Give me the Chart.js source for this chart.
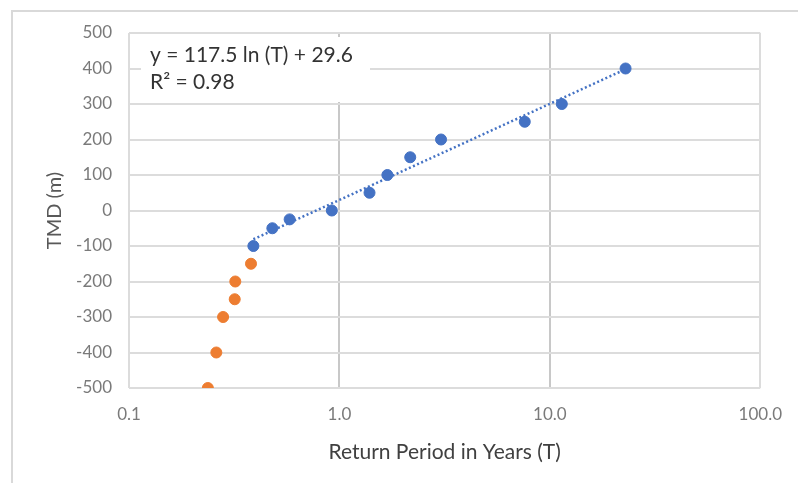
<!DOCTYPE html>
<html>
<head>
<meta charset="utf-8">
<script src="https://cdn.jsdelivr.net/npm/chart.js@4/dist/chart.umd.min.js"></script>
<style>
  html, body { margin: 0; padding: 0; background: #fff; }
  #wrap { width: 798px; height: 483px; position: relative; }
</style>
</head>
<body>
<div id="wrap"><canvas id="chart" width="798" height="483"></canvas></div>
<script>
// data
const blueT = [0.39, 0.48, 0.58, 0.92, 1.39, 1.69, 2.17, 3.04, 7.6, 11.4, 22.9];
const blueY = [-100, -50, -25, 0, 50, 100, 150, 200, 250, 300, 400];
const orangeT = [0.38, 0.32, 0.318, 0.28, 0.26, 0.237];
const orangeY = [-150, -200, -250, -300, -400, -500];
const trendT = [0.39, 22.9];
const trendY = [-81, 398];
const xTicks = [0.1, 1, 10, 100];
const eqLines = ['y = 117.5 ln (T) + 29.6', 'R\u00b2 = 0.98'];

const toPts = (xs, ys) => xs.map((x, i) => ({ x: x, y: ys[i] }));

Chart.defaults.font.family = "Lato, 'Open Sans', sans-serif";

// frame + equation box
const extras = {
  id: 'extras',
  beforeDraw(chart) {
    const c = chart.ctx;
    c.save();
    c.fillStyle = '#fff';
    c.fillRect(0, 0, chart.width, chart.height);
    c.strokeStyle = '#d9d9d9';
    c.lineWidth = 2;
    c.beginPath();
    c.moveTo(12, chart.height);
    c.lineTo(12, 11);
    c.lineTo(chart.width, 11);
    c.stroke();
    c.restore();
  },
  afterDatasetsDraw(chart) {
    const c = chart.ctx;
    c.save();
    c.fillStyle = '#fff';
    c.fillRect(141, 37, 229, 65);
    c.fillStyle = '#333333';
    c.font = "21px Lato, 'Open Sans', sans-serif";
    c.textBaseline = 'alphabetic';
    c.fillText(eqLines[0], 150, 62);
    c.fillText(eqLines[1], 150, 89);
    c.restore();
  }
};

new Chart(document.getElementById('chart'), {
  type: 'scatter',
  data: {
    datasets: [
      {
        label: 'trend',
        type: 'line',
        data: toPts(trendT, trendY),
        borderColor: '#4472C4',
        borderWidth: 2.5,
        borderDash: [2, 2.5],
        pointRadius: 0,
        fill: false,
        order: 3
      },
      {
        label: 'fit',
        data: toPts(blueT, blueY),
        backgroundColor: '#4472C4',
        borderColor: '#4472C4',
        pointRadius: 5.5,
        order: 1
      },
      {
        label: 'other',
        data: toPts(orangeT, orangeY),
        backgroundColor: '#ED7D31',
        borderColor: '#ED7D31',
        pointRadius: 5.5,
        order: 2
      }
    ]
  },
  options: {
    responsive: false,
    animation: false,
    layout: { padding: { top: 33, right: 37, left: 0, bottom: 0 } },
    plugins: {
      legend: { display: false },
      tooltip: { enabled: false }
    },
    scales: {
      x: {
        type: 'logarithmic',
        min: 0.1,
        max: 100,
        afterBuildTicks: (s) => { s.ticks = xTicks.map(v => ({ value: v })); },
        afterFit: (s) => { s.height = 95; },
        grid: {
          drawTicks: false,
          color: (ctx) => (ctx.tick && (ctx.tick.value === 1 || ctx.tick.value === 10)) ? '#c8c8c8' : '#dcdcdc',
          lineWidth: 2
        },
        border: { display: false },
        ticks: {
          padding: 16,
          color: '#7a7a7a',
          font: { size: 17 },
          maxRotation: 0,
          callback: (v) => Number(v).toFixed(1)
        },
        title: {
          display: true,
          text: 'Return Period in Years (T)',
          color: '#404040',
          font: { size: 21 },
          padding: { top: 18, bottom: 18 }
        }
      },
      y: {
        min: -500,
        max: 500,
        afterFit: (s) => { s.width = 129; },
        grid: { drawTicks: false, color: '#dcdcdc', lineWidth: 2 },
        border: { display: false },
        ticks: {
          stepSize: 100,
          padding: 17,
          color: '#7a7a7a',
          font: { size: 17 }
        },
        title: {
          display: true,
          text: 'TMD (m)',
          color: '#595959',
          font: { size: 20 },
          padding: { top: 43, bottom: 43 }
        }
      }
    }
  },
  plugins: [extras]
});
</script>
</body>
</html>
